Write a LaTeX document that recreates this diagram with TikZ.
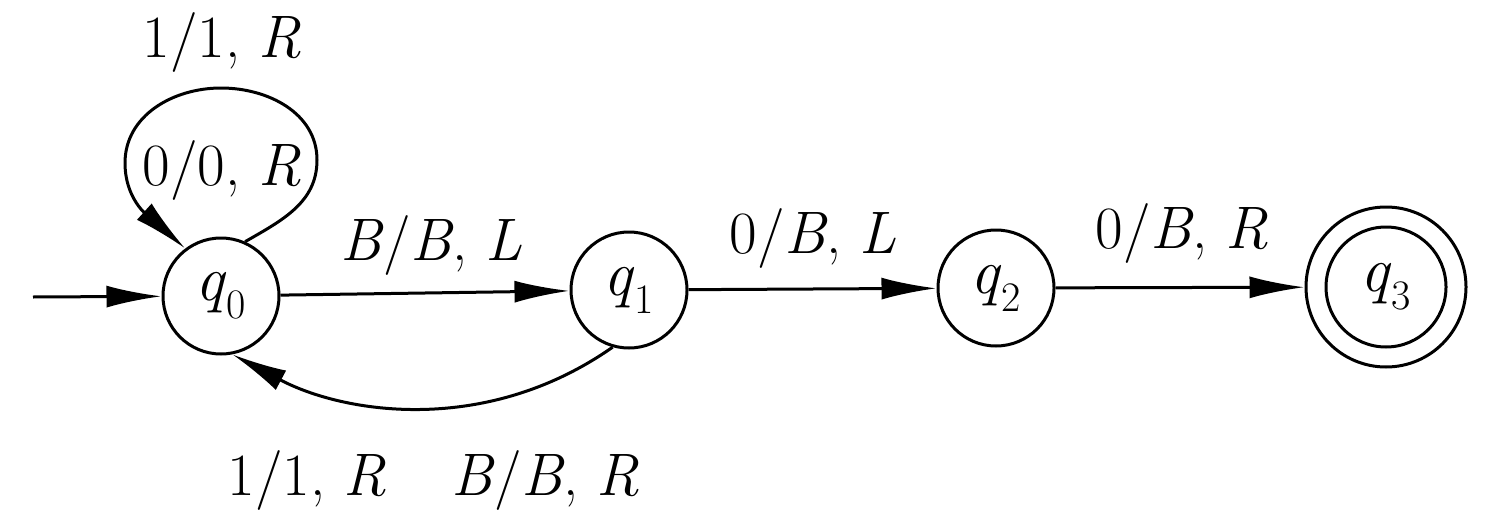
\documentclass[tikz,border=0pt]{standalone}
\usepackage{fontspec}
\usetikzlibrary{arrows.meta}
\newcommand{\stname}[1]{\textit{q}\raisebox{-18pt}{\fontsize{42}{42}\selectfont #1}}
\tikzset{
 stt/.style={circle, draw, line width=3pt, minimum size=116pt, inner sep=0pt, font=\fontsize{64}{70}\selectfont},
 acc/.style={circle, draw, line width=3pt, minimum size=160pt, inner sep=0pt},
 arr/.style={draw, line width=3pt, -{Latex[length=55pt,width=22pt]}},
 lbl/.style={anchor=base, inner sep=0pt, font=\fontsize{60}{70}\selectfont},
}
\begin{document}
\begin{tikzpicture}[x=1pt,y=1pt]
\useasboundingbox[fill=white] (0,0) rectangle (1485,-511);
\node[stt] (q0) at (221,-296) {\stname{0}};
\node[stt] (q1) at (629,-290) {\stname{1}};
\node[stt] (q2) at (996,-288) {\stname{2}};
\node[stt, minimum size=120pt] (q3) at (1386,-287) {\stname{3}};
\node[acc] (q3o) at (1386,-287) {};
\coordinate (s) at (33,-297);
\coordinate (lr) at (317,-160);
\coordinate (lt) at (221,-88);
\coordinate (ll) at (125,-163);
\draw[arr] (s) -- (q0);
\draw[arr] (q0) -- (q1);
\draw[arr] (q1) -- (q2);
\draw[arr] (q2) -- (q3o);
\draw[arr] (q0.66) to[out=30,in=270] (lr) to[out=90,in=0] (lt) to[out=180,in=90] (ll) to[out=270,in=138] (q0.127);
\draw[arr] (q1.254) .. controls +(215:155) and +(332:126) .. (q0.281);
\node[lbl] (l1) at (222,-58) {1/1, \textit{R}};
\node[lbl] (l2) at (222,-185) {0/0, \textit{R}};
\node[lbl] (l3) at (431,-260) {\textit{B}/\textit{B}, \textit{L}};
\node[lbl] (l4) at (813,-253) {0/\textit{B}, \textit{L}};
\node[lbl] (l5) at (1182,-248) {0/\textit{B}, \textit{R}};
\node[lbl] (l6) at (307,-495) {1/1, \textit{R}};
\node[lbl] (l7) at (545,-495) {\textit{B}/\textit{B}, \textit{R}};
\end{tikzpicture}
\end{document}
